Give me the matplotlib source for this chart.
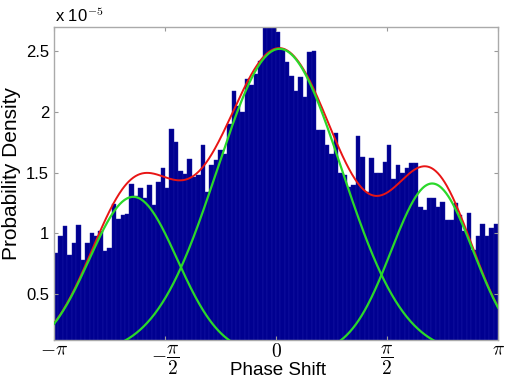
import numpy as np
import matplotlib
matplotlib.use("Agg")
import matplotlib.pyplot as plt

# ---- data (probability density in units of 1e-5) ----
n_bins = 100
density_e5 = [
    0.84, 0.98, 1.06, 0.82, 0.92, 1.07, 0.78, 0.92, 1.00, 0.98,
    1.02, 0.85, 0.88, 1.24, 1.12, 1.15, 1.16, 1.41, 1.31, 1.37,
    1.29, 1.40, 1.23, 1.42, 1.54, 1.37, 1.86, 1.75, 1.51, 1.49,
    1.61, 1.46, 1.48, 1.73, 1.34, 1.56, 1.60, 1.69, 1.65, 1.90,
    2.17, 2.05, 2.00, 2.27, 2.22, 2.31, 2.42, 2.80, 2.80, 2.75,
    2.66, 2.52, 2.41, 2.30, 2.17, 2.29, 2.12, 2.49, 2.50, 1.85,
    1.85, 1.73, 1.65, 1.83, 1.50, 1.48, 1.38, 1.40, 1.80, 1.63,
    1.34, 1.62, 1.50, 1.50, 1.59, 1.73, 1.45, 1.56, 1.50, 1.54,
    1.58, 1.58, 1.22, 1.19, 1.29, 1.29, 1.22, 1.26, 1.11, 1.11,
    1.25, 1.15, 1.02, 1.17, 0.86, 0.98, 1.08, 0.98, 1.04, 1.08,
]

# Gaussian mixture components (fit): amplitude (1e-5), mean (rad), sigma (rad)
comp_amp = [1.30, 2.52, 1.41]
comp_mean = [-2.02, 0.05, 2.21]
comp_sigma = [0.62, 0.88, 0.58]

xtick_vals = [-np.pi, -np.pi / 2, 0, np.pi / 2, np.pi]
xtick_labels = [r'$-\pi$', r'$-\dfrac{\pi}{2}$', r'$0$', r'$\dfrac{\pi}{2}$', r'$\pi$']
ytick_vals = [0.5, 1.0, 1.5, 2.0, 2.5]
ytick_labels = ['0.5', '1', '1.5', '2', '2.5']

plt.rcParams['font.family'] = ['Liberation Sans', 'DejaVu Sans']
plt.rcParams['mathtext.fontset'] = 'cm'

fig = plt.figure(figsize=(5.09, 3.78), dpi=100)
ax = fig.add_axes([54 / 509, 38 / 378, 444 / 509, 313 / 378])

edges = np.linspace(-np.pi, np.pi, n_bins + 1)
width = edges[1] - edges[0]
ax.bar(edges[:-1], density_e5, width=width, align='edge',
       color='#000090', edgecolor='#1a1aa8', linewidth=0.3)

xs = np.linspace(-np.pi, np.pi, 600)
total = np.zeros_like(xs)
comps = []
for a, m, s in zip(comp_amp, comp_mean, comp_sigma):
    g = a * np.exp(-(xs - m) ** 2 / (2 * s ** 2))
    comps.append(g)
    total += g
ax.plot(xs, total, color='#e81515', lw=1.4, zorder=3)
for g in comps:
    ax.plot(xs, g, color='#2ad82a', lw=1.6, zorder=4)

ax.set_xlim(-np.pi, np.pi)
ax.set_ylim(0.12, 2.7)
ax.set_xticks(xtick_vals)
ax.set_xticklabels(xtick_labels, fontsize=14)
ax.set_yticks(ytick_vals)
ax.set_yticklabels(ytick_labels, fontsize=12)
ax.tick_params(axis='x', pad=2)
ax.tick_params(direction='in', top=True, right=True, length=3,
               color='#999999')
for sp in ax.spines.values():
    sp.set_color('#aaaaaa')
    sp.set_linewidth(1.0)

fig.text(55 / 509, 1 - 22 / 378, r'x 10$^{-5}$', fontsize=12, ha='left',
         va='baseline')
fig.text(278 / 509, 1 - 375 / 378, 'Phase Shift', fontsize=13.5, ha='center',
         va='baseline')
fig.text(12 / 509, 1 - 173 / 378, 'Probability Density', fontsize=15,
         rotation=90, ha='center', va='center')

fig.savefig('out.png', dpi=100)
